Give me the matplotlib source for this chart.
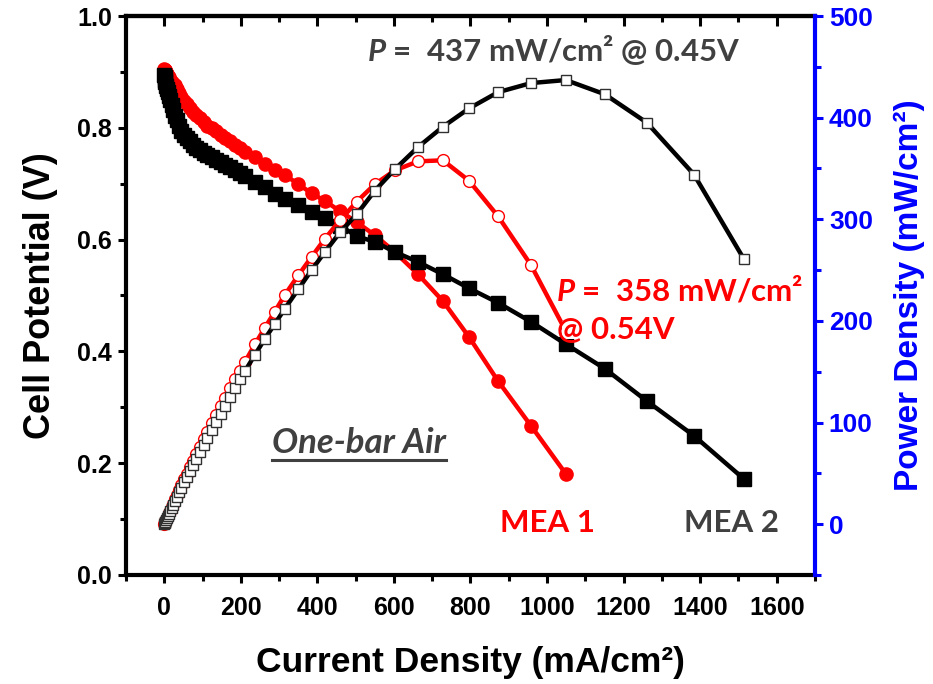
import numpy as np
import matplotlib.pyplot as plt
from matplotlib.ticker import MultipleLocator, FormatStrFormatter

plt.rcParams['mathtext.fontset'] = 'custom'
plt.rcParams['mathtext.rm'] = 'Lato:bold'
plt.rcParams['mathtext.it'] = 'Lato:italic:bold'
plt.rcParams['mathtext.bf'] = 'Lato:bold'

# current density (mA/cm2), shared steps for both MEAs
cur1 = [0, 1, 2, 3, 5, 7, 9, 12, 15, 19, 23, 28, 33, 39, 45, 52, 59, 67, 75, 84, 93,
        103, 113, 124, 135, 147, 159, 172, 185, 198, 211, 237, 263, 289, 315, 350, 385,
        420, 459, 503, 550, 602, 663, 728, 796, 872, 958, 1049]
cur2 = cur1 + [1151, 1261, 1384, 1514]

# MEA 1 (red): cell potential (V) and power density (mW/cm2)
volt1 = [0.905, 0.904, 0.903, 0.902, 0.899, 0.896, 0.893, 0.890, 0.886, 0.882, 0.878,
         0.876, 0.870, 0.862, 0.855, 0.848, 0.842, 0.835, 0.829, 0.823, 0.817, 0.810,
         0.804, 0.799, 0.794, 0.788, 0.782, 0.776, 0.770, 0.763, 0.757, 0.747, 0.735,
         0.724, 0.716, 0.699, 0.683, 0.669, 0.651, 0.631, 0.608, 0.578, 0.538, 0.490,
         0.426, 0.347, 0.267, 0.181]
pow1 = [0, 0.9, 1.8, 2.7, 4.5, 6.3, 8.0, 10.7, 13.3, 16.8, 20.2, 24.5, 28.7, 33.6, 38.5,
        44.1, 49.7, 55.9, 62.2, 69.1, 76.0, 83.4, 90.9, 99.1, 107.2, 115.8, 124.3, 133.5,
        142.5, 151.1, 159.7, 177.0, 193.3, 209.2, 225.5, 244.7, 263.0, 281.0, 298.8,
        317.4, 334.4, 348, 357, 358, 338, 303, 255, 190]

# MEA 2 (black)
volt2 = [0.894, 0.890, 0.886, 0.882, 0.875, 0.869, 0.864, 0.856, 0.849, 0.840, 0.832,
         0.822, 0.814, 0.804, 0.795, 0.788, 0.782, 0.776, 0.770, 0.764, 0.760, 0.755,
         0.751, 0.747, 0.743, 0.739, 0.734, 0.730, 0.725, 0.720, 0.714, 0.703, 0.694,
         0.682, 0.673, 0.662, 0.649, 0.639, 0.625, 0.606, 0.596, 0.578, 0.560, 0.538,
         0.513, 0.487, 0.453, 0.413, 0.369, 0.311, 0.249, 0.172]
pow2 = [0, 0.9, 1.8, 2.6, 4.4, 6.1, 7.8, 10.3, 12.7, 16.0, 19.1, 23.0, 26.9, 31.4, 35.8,
        41.0, 46.1, 52.0, 57.8, 64.2, 70.7, 77.8, 84.9, 92.6, 100.3, 108.6, 116.7, 125.6,
        134.1, 142.6, 150.7, 166.6, 182.5, 197.1, 212, 231, 250, 268, 287, 305, 328, 349,
        371, 391, 409, 425, 434, 437, 423, 395, 344, 261]

gray = '#404040'
fig = plt.figure(figsize=(9.33, 6.84), dpi=100)
ax = fig.add_axes([0.135, 0.1594, 0.7385, 0.8172])
ax2 = ax.twinx()

ax.plot(cur1, volt1, '-o', color='red', lw=3.2, ms=9.5, zorder=2)
ax.plot(cur2, volt2, '-s', color='black', lw=3.2, ms=9.5, zorder=3)
ax2.plot(cur1, pow1, '-o', color='red', lw=3.2, ms=8.5, mfc='white', mec='red', mew=1.0, zorder=2)
ax2.plot(cur2, pow2, '-s', color='black', lw=3.2, ms=7.5, mfc='white', mec='#303030', mew=1.0, zorder=3)

ax.set_xlim(-100, 1700)
ax.set_ylim(0, 1.0)
ax2.set_ylim(-50, 500)

ax.xaxis.set_major_locator(MultipleLocator(200))
ax.xaxis.set_minor_locator(MultipleLocator(100))
ax.yaxis.set_major_locator(MultipleLocator(0.2))
ax.yaxis.set_minor_locator(MultipleLocator(0.1))
ax.yaxis.set_major_formatter(FormatStrFormatter('%.1f'))
ax2.yaxis.set_major_locator(MultipleLocator(100))
ax2.yaxis.set_minor_locator(MultipleLocator(50))

for s in ['left', 'bottom', 'top']:
    ax.spines[s].set_linewidth(3)
ax.spines['right'].set_visible(False)
for s in ['left', 'bottom', 'top']:
    ax2.spines[s].set_visible(False)
ax2.spines['right'].set_color('blue')
ax2.spines['right'].set_linewidth(3)

ax.tick_params(axis='both', which='major', direction='out', length=6, width=2.2)
ax.tick_params(axis='both', which='minor', direction='out', length=4, width=2.2)
ax.tick_params(axis='y', labelsize=18, pad=4)
ax.tick_params(axis='x', labelsize=18, pad=9)
ax2.tick_params(axis='y', which='major', direction='out', length=6, width=2.2, colors='blue',
                labelsize=19, pad=4)
ax2.tick_params(axis='y', which='minor', direction='out', length=4, width=2.2, colors='blue')

for t in ax.get_yticklabels() + ax2.get_yticklabels() + ax.get_xticklabels():
    t.set_fontfamily('Liberation Sans')
    t.set_fontweight('bold')

# top ticks pointing in
top = ax.secondary_xaxis('top')
top.xaxis.set_major_locator(MultipleLocator(200))
top.xaxis.set_minor_locator(MultipleLocator(100))
top.tick_params(which='major', direction='in', length=7, width=2.2, labeltop=False)
top.tick_params(which='minor', direction='in', length=4.5, width=2.2)
top.spines['top'].set_linewidth(3)

ax.set_xlabel('Current Density (mA/cm²)', fontfamily='Liberation Sans', fontweight='bold',
              fontsize=25.5, labelpad=19)
ax.set_ylabel('Cell Potential (V)', fontfamily='Liberation Sans', fontweight='bold',
              fontsize=26, labelpad=14)
ax2.set_ylabel('Power Density (mW/cm²)', fontfamily='Liberation Sans', fontweight='bold',
               fontsize=24, color='blue', labelpad=15)

# text goes on the top axes so the power curves do not cover it
tr = ax.transData
txt = dict(fontfamily='Lato', fontweight='bold', fontsize=22.5, va='center', zorder=10,
           transform=tr)
ax2.text(530, 0.939, r'$P$ =  437 mW/cm² @ 0.45V', color=gray, **txt)
ax2.text(1023, 0.51, r'$P$ =  358 mW/cm²', color='red', **txt)
ax2.text(1026, 0.438, '@ 0.54V', color='red',
         bbox=dict(facecolor='white', edgecolor='none', boxstyle='square,pad=-0.15'), **txt)
ax2.text(1002, 0.093, 'MEA 1', color='red', ha='center', **txt)
ax2.text(1481, 0.093, 'MEA 2', color=gray, ha='center', **txt)
air = ax2.text(282, 0.236, 'One-bar Air', color=gray, fontstyle='italic', **txt)
air.set_fontsize(25)

# underline for the "One-bar Air" label
fig.canvas.draw()
bb = air.get_window_extent().transformed(fig.transFigure.inverted())
fig.add_artist(plt.Line2D([bb.x0, bb.x1], [bb.y0 - 0.002, bb.y0 - 0.002],
                          color=gray, lw=2.2, transform=fig.transFigure))

fig.savefig('out.png', dpi=100)
